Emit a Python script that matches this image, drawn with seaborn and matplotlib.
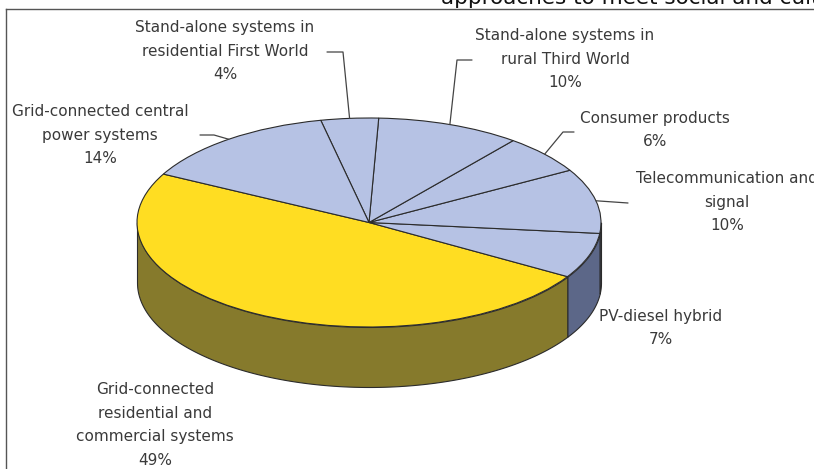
import numpy as np
import matplotlib
matplotlib.use("Agg")
import matplotlib.pyplot as plt
import seaborn as sns

# shares, counterclockwise from the yellow slice
shares = [49, 7, 10, 6, 10, 4, 14]
slice_labels = [
    "Grid-connected\nresidential and\ncommercial systems\n49%",
    "PV-diesel hybrid\n7%",
    "Telecommunication and\nsignal\n10%",
    "Consumer products\n6%",
    "Stand-alone systems in\nrural Third World\n10%",
    "Stand-alone systems in\nresidential First World\n4%",
    "Grid-connected central\npower systems\n14%",
]
top_colors = ["#FFDD22"] + ["#B6C2E4"] * 6
wall_colors = ["#867A2C"] + ["#5C6788"] * 6

W, H = 814, 469
CX, CY, RX, RY, DEPTH = 369, 222.5, 232, 104.5, 60
START = 152.4
LEFT, TOP = 6, 9

# label centres and leader elbows in pixels, same order as shares
label_pos = [(155, 425), (661, 328), (727, 202), (655, 130), (565, 59), (225, 51), (100, 135)]
elbows = [None, None, [(628, 203)], [(574, 132), (563, 132)],
          [(472, 60), (457, 60)], [(327, 52), (343, 52)], [(200, 135), (214, 135)]]


def to_fig(x, y):
    return x / W, 1 - y / H


sns.set_theme(style="white")
plt.rcParams["font.family"] = ["DejaVu Sans"]

fig = plt.figure(figsize=(W / 100, H / 100), dpi=100)
ax = fig.add_axes([LEFT / W, 0, (W - LEFT) / W, (H - TOP) / H])

ax.pie(shares, colors=top_colors, startangle=START, counterclock=True, frame=True,
       wedgeprops={"edgecolor": "#2b2b2b", "linewidth": 0.8, "zorder": 3})
ax.set_aspect("auto")
ax.set_xlim((LEFT - CX) / RX, (W - CX) / RX)
ax.set_ylim((CY - H) / RY, (CY - TOP) / RY)
sns.despine(ax=ax, top=False, right=True, bottom=True)
for side in ["left", "top"]:
    ax.spines[side].set_color("#555555")
    ax.spines[side].set_linewidth(1.0)

# side wall of the disc, only the part facing the viewer
drop = DEPTH / RY
edges = START + np.cumsum([0] + shares) * 3.6
for i in range(len(shares)):
    lo, hi = max(edges[i], 180), min(edges[i + 1], 360)
    if hi <= lo:
        continue
    t = np.radians(np.linspace(lo, hi, 120))
    ax.fill_between(np.cos(t), np.sin(t), np.sin(t) - drop, color=wall_colors[i],
                    edgecolor="#2b2b2b", linewidth=0.8, zorder=2)

# labels and leader lines
mids = START + (np.cumsum(shares) - np.array(shares) / 2) * 3.6
for label, pos, elbow, mid in zip(slice_labels, label_pos, elbows, mids):
    fx, fy = to_fig(*pos)
    fig.text(fx, fy, label, ha="center", va="center", fontsize=11, color="#3a3a3a",
             linespacing=1.72)
    if elbow:
        ex = CX + RX * np.cos(np.radians(mid))
        ey = CY - RY * np.sin(np.radians(mid))
        pts = [to_fig(px, py) for px, py in elbow + [(ex, ey)]]
        fig.add_artist(plt.Line2D([p[0] for p in pts], [p[1] for p in pts],
                                  color="#444444", linewidth=0.9))

# sentence of the page cut off by the crop
fig.text(441 / W, 1 - 4 / H, "approaches to meet social and cultural", fontsize=15.5,
         color="#111111", ha="left", va="baseline")

fig.savefig("out.png", dpi=100)
